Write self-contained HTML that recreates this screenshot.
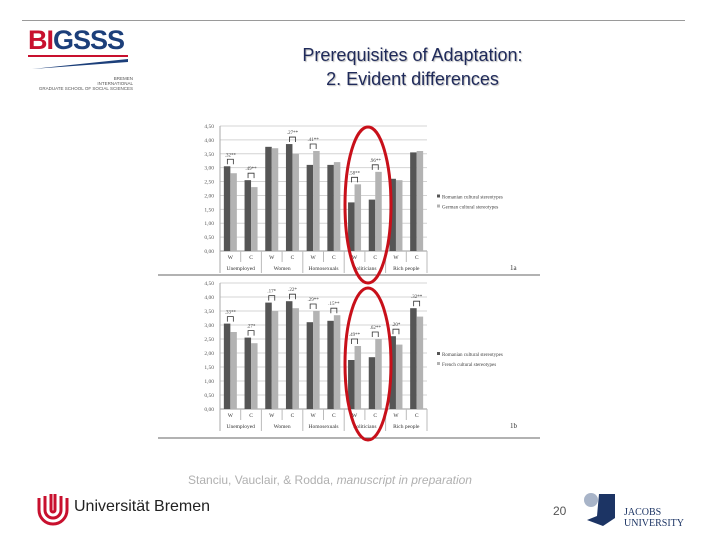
<!DOCTYPE html>
<html><head><meta charset="utf-8">
<style>
body{margin:0;width:720px;height:540px;background:#fff;overflow:hidden;font-family:"Liberation Sans",sans-serif;position:relative}
.abs{position:absolute}
</style></head>
<body>
<div class="abs" style="left:22px;top:20px;width:663px;height:1px;background:#9a9a9a"></div>
<div class="abs" style="left:28px;top:26px;width:105px;height:60px">
 <div style="font:bold 27px 'Liberation Sans',sans-serif;letter-spacing:-1px;line-height:28px"><span style="color:#c8102e">BI</span><span style="color:#1c3f7a">GSSS</span></div>
 <div style="height:2px;background:#c8102e;margin-top:1px;width:100px"></div>
 <svg width="105" height="14"><path d="M4 12 L100 2 L100 5 Z" fill="#1c3f7a"/></svg>
 <div style="font-size:4.5px;color:#555;text-align:right;line-height:5px">BREMEN<br>INTERNATIONAL<br>GRADUATE SCHOOL OF SOCIAL SCIENCES</div>
</div>
<div class="abs" style="left:240px;top:43px;width:345px;text-align:center;color:#1f2a5a;font-size:18px;line-height:24px;text-shadow:1px 1px 1px #bbb">Prerequisites of Adaptation:<br>2. Evident differences</div>

<svg class="abs" style="left:0;top:0" width="720" height="540" id="charts"></svg>

<div class="abs" style="left:120px;top:473px;width:420px;text-align:center;color:#b0b0b0;font-size:12px">Stanciu, Vauclair, &amp; Rodda, <i>manuscript in preparation</i></div>
<div class="abs" style="left:36px;top:492px;width:190px;height:34px">
 <svg width="34" height="34" style="position:absolute;left:0;top:0"><path d="M3 6 V18 A14 14 0 0 0 31 18 V6" fill="none" stroke="#c8102e" stroke-width="3"/><path d="M9 4 V18 A8 8 0 0 0 25 18 V4" fill="none" stroke="#c8102e" stroke-width="3"/><path d="M15 2 V18 A2 2 0 0 0 19 18 V2" fill="none" stroke="#c8102e" stroke-width="3"/></svg>
 <div style="position:absolute;left:38px;top:6px;font-size:16px;color:#222">Universität Bremen</div>
</div>
<div class="abs" style="left:553px;top:504px;font-size:12px;color:#555">20</div>
<div class="abs" style="left:583px;top:490px;width:110px;height:40px">
 <svg width="40" height="40" style="position:absolute;left:0;top:0"><circle cx="8" cy="10" r="7" fill="#a8b4c8"/><path d="M16 4 H32 V28 L20 36 L4 30 L14 26 Z" fill="#1c3464"/></svg>
 <div style="position:absolute;left:41px;top:17px;font:10px 'Liberation Serif',serif;color:#1c3464;line-height:11px">JACOBS<br>UNIVERSITY</div>
</div>

<script>
const categories=["Unemployed","Women","Homosexuals","Politicians","Rich people"];
const subLabels=["W","C","W","C","W","C","W","C","W","C"];
const yTicks=["0,00","0,50","1,00","1,50","2,00","2,50","3,00","3,50","4,00","4,50"];
const romA=[3.05,2.55,3.75,3.85,3.1,3.1,1.75,1.85,2.6,3.55];
const gerA=[2.8,2.3,3.7,3.5,3.6,3.2,2.4,2.85,2.55,3.6];
const annA=[".32**",".49**","",".27**",".41**","",".58**",".96**","",""];
const romB=[3.05,2.55,3.8,3.85,3.1,3.15,1.75,1.85,2.6,3.6];
const freB=[2.75,2.35,3.5,3.6,3.5,3.35,2.25,2.5,2.3,3.3];
const annB=[".33**",".27*",".17*",".22*",".29**",".15**",".49**",".62**",".20*",".32**"];

const svg=document.getElementById('charts');
const NS="http://www.w3.org/2000/svg";
function mk(t,a,txt){const e=document.createElementNS(NS,t);for(const k in a)e.setAttribute(k,a[k]);if(txt!==undefined)e.textContent=txt;svg.appendChild(e);return e;}

function chart(y0,y45,s1,s2,ann,leg2,tag,lineY,id){
  const x0=220,x1=427,n=s1.length,slot=(x1-x0)/n;
  const Y=v=>y0-(v/4.5)*(y0-y45);
  for(let i=0;i<yTicks.length;i++){
    const yy=Y(i*0.5);
    const g=mk('line',{x1:x0,x2:x1,y1:yy,y2:yy,stroke:i?'#d4d4d4':'#999','stroke-width':1});
    
    const t=mk('text',{x:x0-6,y:yy+2,'font-size':5.5,'text-anchor':'end',fill:'#555','font-family':'Liberation Serif,serif'},yTicks[i]);
    
  }
  mk('line',{x1:x0,x2:x0,y1:y45,y2:y0+22,stroke:'#aaa'});
  for(let i=0;i<n;i++){
    const cx=x0+slot*(i+0.5),bw=6.5;
    const b1=mk('rect',{x:cx-bw,y:Y(s1[i]),width:bw,height:y0-Y(s1[i]),fill:'#555'});
    
    const b2=mk('rect',{x:cx,y:Y(s2[i]),width:bw,height:y0-Y(s2[i]),fill:'#b3b3b3'});
    
    const l=mk('text',{x:cx,y:y0+8,'font-size':5.5,'text-anchor':'middle',fill:'#333','font-family':'Liberation Serif,serif'},subLabels[i]);
    
    mk('line',{x1:x0+slot*(i+1),x2:x0+slot*(i+1),y1:y0,y2:y0+(i%2?22:11),stroke:'#bbb'});
    if(ann[i]){
      const top=Y(Math.max(s1[i],s2[i]))-7;
      mk('path',{d:`M${cx-3} ${top+5} V${top} H${cx+3} V${top+5}`,fill:'none',stroke:'#333','stroke-width':0.8});
      const a=mk('text',{x:cx,y:top-3,'font-size':5,'text-anchor':'middle',fill:'#444','font-family':'Liberation Serif,serif'},ann[i]);
      
    }
  }
  for(let g=0;g<categories.length;g++){
    const t=mk('text',{x:x0+slot*(2*g+1),y:y0+19,'font-size':5.5,'text-anchor':'middle',fill:'#333','font-family':'Liberation Serif,serif'},categories[g]);
    
  }
  const ly=(y0+y45)/2+10;
  mk('rect',{x:437,y:ly-4,width:3,height:3,fill:'#555'});
  const t1=mk('text',{x:442,y:ly,'font-size':5,fill:'#444','font-family':'Liberation Serif,serif'},'Romanian cultural stereotypes');
  
  mk('rect',{x:437,y:ly+6,width:3,height:3,fill:'#b3b3b3'});
  const t2=mk('text',{x:442,y:ly+10,'font-size':5,fill:'#444','font-family':'Liberation Serif,serif'},leg2);
  
  const tg=mk('text',{x:510,y:y0+19,'font-size':7,fill:'#333','font-family':'Liberation Serif,serif'},tag);
  
  mk('line',{x1:158,x2:540,y1:lineY,y2:lineY,stroke:'#666','stroke-width':1});
}
chart(251,126,romA,gerA,annA,'German cultural stereotypes','1a',275,'a');
chart(409,283,romB,freB,annB,'French cultural stereotypes','1b',438,'b');
const e1=mk('ellipse',{cx:368,cy:205,rx:23,ry:78,fill:'none',stroke:'#c8101a','stroke-width':3});

const e2=mk('ellipse',{cx:368,cy:364,rx:23,ry:76,fill:'none',stroke:'#c8101a','stroke-width':3});

</script>
</body></html>
